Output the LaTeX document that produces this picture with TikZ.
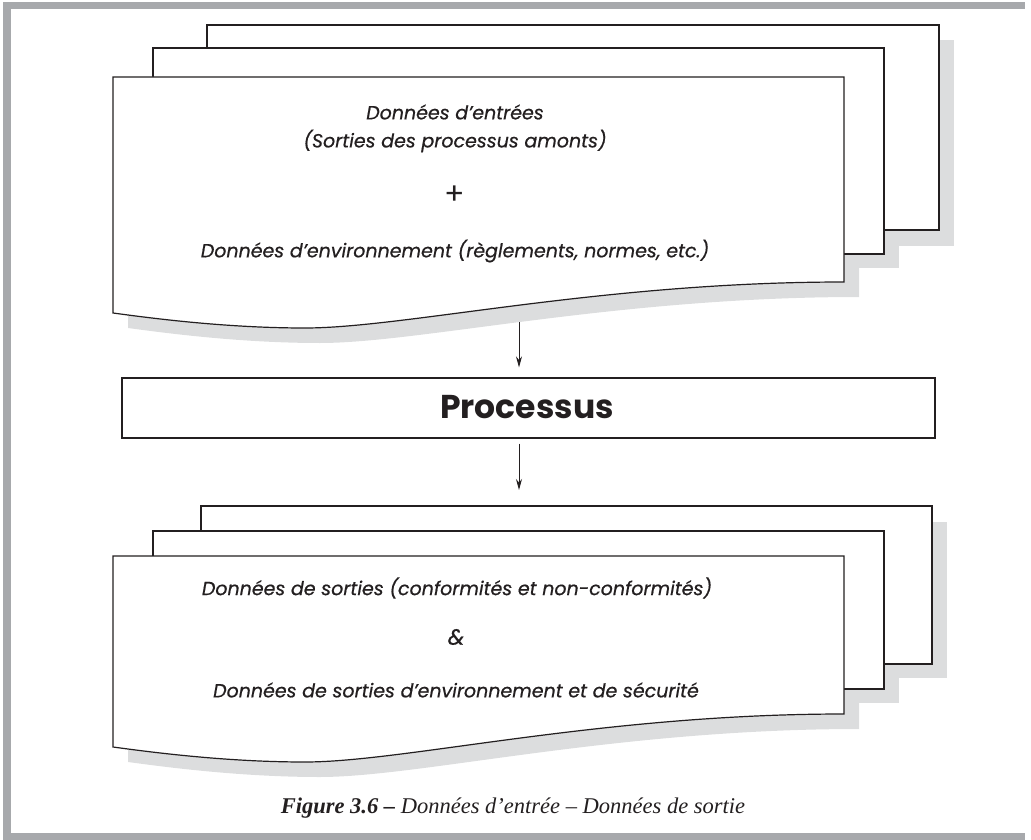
\documentclass[tikz,border=0pt]{standalone}
\usepackage{fontspec}
\usetikzlibrary{arrows.meta}
\newfontfamily\geofont{Poppins}[ItalicFeatures={FakeBold=0.6}]
\newfontfamily\capfont{Liberation Serif}
\definecolor{ink}{HTML}{231F20}
\definecolor{framegray}{HTML}{A7A9AC}
\definecolor{shadowgray}{HTML}{DCDDDE}

% front page with a wavy lower edge: #1 top, #2 right foot, #3 left foot, #4 lowest point
\newcommand\wavypage[4]{(113,#1) -- (844,#1) -- (844,#2)
  .. controls (600,#2) and (405,#4) .. (305,#4)
  .. controls (225,#4) and (150,#3+5) .. (113,#3) -- cycle}

\begin{document}
\begin{tikzpicture}[x=1pt,y=-1pt,
  page/.style={draw=ink,line width=1.2pt,fill=white},
  pageshadow/.style={fill=shadowgray},
  txt/.style={text=ink,font=\geofont\itshape\fontsize{19}{23}\selectfont,inner sep=0pt},
  arr/.style={draw=ink,line width=1pt,-{Stealth[length=11pt,width=6pt]}}]
\useasboundingbox (0,0) rectangle (1031,840);

% frame
\fill[framegray] (3,2) rectangle (1025,9);
\fill[framegray] (3,2) rectangle (11,840);
\fill[framegray] (3,833) rectangle (1025,840);

% ---- input stack ----
\fill[pageshadow] (222,40) rectangle (954,246);
\fill[pageshadow] (168,63) rectangle (899,268);
\fill[pageshadow,shift={(15,15)}] \wavypage{77}{282}{313}{328};
\draw[page] (207,25) rectangle (939,230);
\draw[page] (153,48) rectangle (884,254);
\draw[page] \wavypage{77}{282}{313}{328};

\node[txt] (in1) at (455,112) {Données d’entrées};
\node[txt] (in2) at (455,141) {(Sorties des processus amonts)};
\node[txt,font=\geofont\fontsize{30}{32}\selectfont] (plus) at (455,195) {+};
\node[txt] (in3) at (455,251) {Données d’environnement (règlements, normes, etc.)};

% ---- process ----
\node[draw=ink,line width=1.2pt,minimum width=813pt,minimum height=60pt,inner sep=0pt]
  (proc) at (528.5,408) {};
\node[text=ink,font=\geofont\bfseries\fontsize{33}{36}\selectfont,inner sep=0pt]
  (proctext) at (527,407) {Processus};

% ---- output stack ----
\fill[pageshadow] (216,522) rectangle (947,678);
\fill[pageshadow] (168,546) rectangle (899,703);
\fill[pageshadow,shift={(15,15)}] \wavypage{556}{714}{747}{762};
\draw[page] (201,506) rectangle (932,664);
\draw[page] (153,531) rectangle (884,689);
\draw[page] \wavypage{556}{714}{747}{762};

\node[txt] (out1) at (457,588) {Données de sorties (conformités et non-conformités)};
\node[txt,font=\geofont\itshape\fontsize{22}{24}\selectfont] (amp) at (456,637) {\&};
\node[txt] (out3) at (456,690) {Données de sorties d’environnement et de sécurité};

% ---- connectors ----
\coordinate (inFoot) at (519,322);
\coordinate (outTop) at (519,490);
\draw[arr] (inFoot) -- ([yshift=10pt]proc.north -| inFoot);
\draw[arr] ([yshift=-5pt]proc.south -| outTop) -- (outTop);

% caption
\node[text=ink,font=\capfont\itshape\fontsize{22.5}{26}\selectfont,inner sep=0pt]
  (caption) at (513,808) {\textbf{Figure 3.6 –} Données d’entrée – Données de sortie};
\end{tikzpicture}
\end{document}
